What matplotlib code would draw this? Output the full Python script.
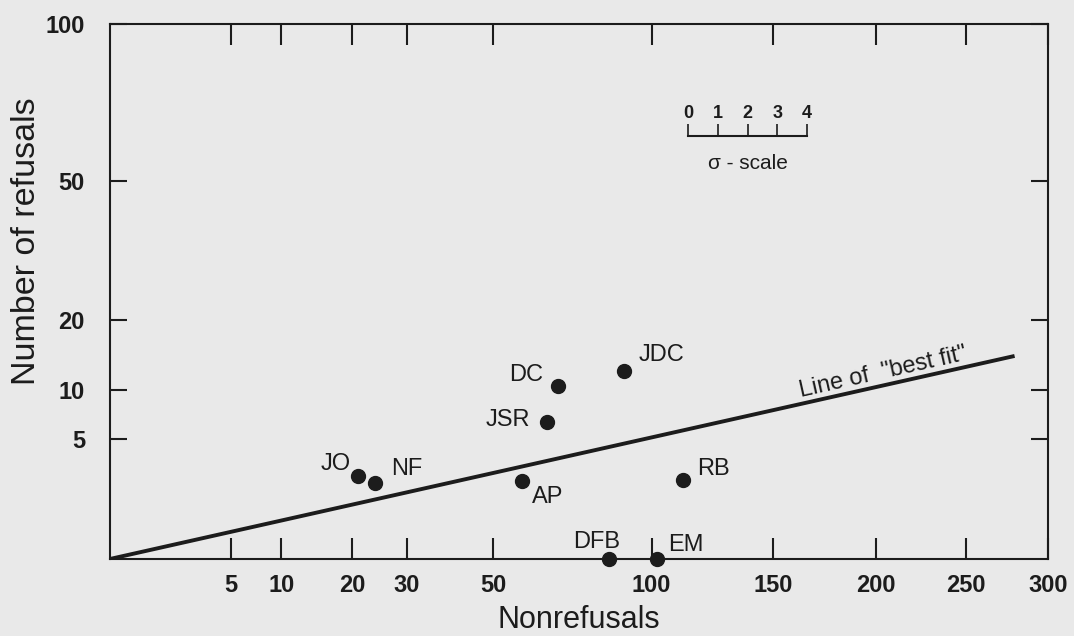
import math
import numpy as np
import matplotlib
matplotlib.use('Agg')
import matplotlib.pyplot as plt
from matplotlib import font_manager

# Interviewer results plotted on square-root (binomial probability) paper
interviewers = ['JO', 'NF', 'AP', 'JSR', 'DC', 'JDC', 'RB', 'DFB', 'EM']
nonrefusals = [21, 24, 58, 65, 68.5, 90, 112, 85, 102]
refusals = [2.4, 2.0, 2.1, 6.6, 10.5, 12.3, 2.2, 0, 0]

# line of "best fit" through the origin
fit_x = [0, 279]
fit_y = [0, 14.4]

x_ticks = [5, 10, 20, 30, 50, 100, 150, 200, 250, 300]
y_ticks = [5, 10, 20, 50, 100]
sigma_ticks = [0, 1, 2, 3, 4]

BG = '#e9e9e9'
INK = '#1c1c1c'

# condensed bold digits if we have them
installed = {f.name for f in font_manager.fontManager.ttflist}
if 'Liberation Sans Narrow' in installed:
    tick_font, tick_size = 'Liberation Sans Narrow', 20
else:
    tick_font, tick_size = 'Liberation Sans', 17

plt.rcParams['font.family'] = ['Liberation Sans', 'DejaVu Sans']
plt.rcParams['text.color'] = INK
plt.rcParams['axes.labelcolor'] = INK

fig = plt.figure(figsize=(10.74, 6.36), dpi=100, facecolor=BG)
ax = fig.add_axes([0.1024, 0.1211, 0.8734, 0.8412])
ax.set_facecolor(BG)

sqrt_paper = (lambda v: np.sqrt(np.clip(v, 0, None)), np.square)
ax.set_xscale('function', functions=sqrt_paper)
ax.set_yscale('function', functions=sqrt_paper)
ax.set_xlim(0, 300)
ax.set_ylim(0, 100)

ax.set_xticks(x_ticks, labels=[str(t) for t in x_ticks],
              fontfamily=tick_font, fontweight='bold', fontsize=tick_size)
ax.set_yticks(y_ticks, labels=[str(t) for t in y_ticks],
              fontfamily=tick_font, fontweight='bold', fontsize=tick_size)
ax.minorticks_off()
ax.tick_params(axis='x', direction='in', length=15, width=1.5, top=True,
               pad=11, colors=INK)
ax.tick_params(axis='y', direction='in', length=12, width=1.5, right=True,
               pad=18, colors=INK)
for s in ax.spines.values():
    s.set_linewidth(1.5)
    s.set_color(INK)

ax.set_xlabel('Nonrefusals', fontsize=22)
ax.xaxis.set_label_coords(0.5, -0.086)
ax.set_ylabel('Number of refusals', fontsize=24.5)
ax.yaxis.set_label_coords(-0.072, 0.594)

# best fit line and its label
ax.plot(fit_x, fit_y, color=INK, lw=2.8, solid_capstyle='butt', zorder=2)
p0 = ax.transData.transform((fit_x[0], fit_y[0]))
p1 = ax.transData.transform((fit_x[1], fit_y[1]))
angle = math.degrees(math.atan2(p1[1] - p0[1], p1[0] - p0[0]))
lx = 205
ax.annotate('Line of  "best fit"', (lx, fit_y[1] / fit_x[1] * lx),
            xytext=(0, 1), textcoords='offset points', rotation=angle,
            rotation_mode='anchor', ha='center', va='bottom', fontsize=17)

# interviewer dots
ax.plot(nonrefusals, refusals, 'o', ms=10, color=INK, clip_on=False, zorder=3)
offsets = {
    'JO': (-16, 9), 'NF': (23, 10), 'AP': (18, -11.5), 'JSR': (-28, 1),
    'DC': (-23, 8), 'JDC': (27, 12), 'RB': (22, 8), 'DFB': (-9, 12),
    'EM': (21, 10),
}
for name, xv, yv in zip(interviewers, nonrefusals, refusals):
    ax.annotate(name, (xv, yv), xytext=offsets[name], textcoords='offset points',
                ha='center', va='center', fontsize=17)

# little sigma scale key
sax = fig.add_axes([0.6406, 0.7846, 0.1108, 0.001])
sax.patch.set_visible(False)
sax.set_xlim(0, 4)
sax.set_yticks([])
for side in ['left', 'right', 'bottom']:
    sax.spines[side].set_visible(False)
sax.spines['top'].set_linewidth(1.5)
sax.spines['top'].set_color(INK)
sax.xaxis.tick_top()
sax.set_xticks(sigma_ticks, labels=[str(t) for t in sigma_ticks],
               fontfamily=tick_font, fontweight='bold', fontsize=13)
sax.tick_params(axis='x', direction='out', length=8.5, width=1.2, pad=2, colors=INK)
sax.xaxis.set_label_position('bottom')
sax.set_xlabel('σ - scale', fontsize=15, labelpad=12)

fig.savefig('out.png', dpi=100, facecolor=BG)
